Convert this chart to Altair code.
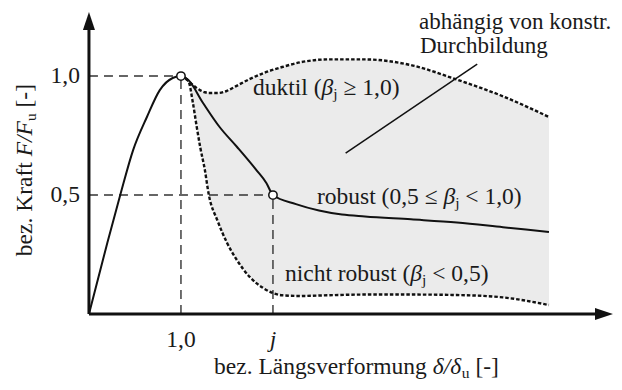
import altair as alt
import pandas as pd

# ---------------- data ----------------
# solid curve (robust behaviour)
curve_x = [0.0, 0.2, 0.34, 0.48, 0.63, 0.77, 0.91, 1.0, 1.08, 1.24, 1.42, 1.61,
           1.82, 1.93, 2.0, 2.25, 2.5, 2.75, 3.0, 3.5, 4.0, 4.5, 5.0]
curve_y = [0.0, 0.30, 0.50, 0.689, 0.828, 0.941, 0.992, 1.0, 0.983, 0.887, 0.786, 0.702,
           0.605, 0.55, 0.5, 0.462, 0.435, 0.418, 0.41, 0.398, 0.385, 0.365, 0.345]

# shaded band between ductile (upper) and non-robust (lower) dotted curves
band_x = [1.0, 1.08, 1.13, 1.17, 1.21, 1.26, 1.3, 1.4, 1.5, 1.6, 1.75, 1.9,
          2.1, 2.3, 2.6, 3.0, 3.5, 4.0, 4.5, 5.0]
band_upper = [1.0, 0.98, 0.962, 0.95, 0.94, 0.932, 0.929, 0.929, 0.938, 0.958, 0.988, 1.013,
              1.038, 1.058, 1.07, 1.07, 1.046, 0.985, 0.915, 0.828]
band_lower = [1.0, 0.98, 0.887, 0.79, 0.70, 0.605, 0.507, 0.39, 0.30, 0.232, 0.155, 0.108,
              0.079, 0.076, 0.079, 0.082, 0.082, 0.08, 0.07, 0.038]

# marked points (peak and point j)
mark_x = [1.0, 2.0]
mark_y = [1.0, 0.5]

# leader line of the annotation
leader_x = [2.79, 4.22]
leader_y = [0.676, 1.05]

# tick labels
xtick_vals = [1.0, 2.0]
xtick_text = ["1,0", "j"]
ytick_vals = [1.0, 0.5]
ytick_text = ["1,0", "0,5"]

# texts made of pieces: (text, style)  n = normal, i = italic, sub = subscript
note_line1 = [("abhängig von konstr.", "n")]
note_line2 = [("Durchbildung", "n")]
duktil_text = [("duktil (", "n"), ("β", "i"), ("j", "sub"), (" ≥ 1,0)", "n")]
robust_text = [("robust (0,5 ≤ ", "n"), ("β", "i"), ("j", "sub"), (" < 1,0)", "n")]
nicht_text = [("nicht robust (", "n"), ("β", "i"), ("j", "sub"), (" < 0,5)", "n")]
x_title = [("bez. Längsverformung ", "n"), ("δ/δ", "i"), ("u", "sub"), (" [-]", "n")]
y_title = [("bez. Kraft ", "n"), ("F/F", "i"), ("u", "sub"), (" [-]", "n")]

# ---------------- chart ----------------
W, H = 606, 374
XD = [-0.88, 5.707]
YD = [-0.2854, 1.286]
PXX = W / (XD[1] - XD[0])
PXY = H / (YD[1] - YD[0])
FONT = "Liberation Serif"
FS = 23.5
SUB_FS = 15.5
SUB_DY = 4
INK = "#1a1a1a"

# Times-compatible advance widths (1/1000 em) used to chain text pieces
REG = {' ': 250, '(': 333, ')': 333, '[': 333, ']': 333, '-': 333, ',': 250, '.': 250,
       '/': 278, '≥': 549, '≤': 549, '<': 564, 'a': 444, 'b': 500, 'c': 444, 'd': 500,
       'e': 444, 'f': 333, 'g': 500, 'h': 500, 'i': 278, 'j': 278, 'k': 500, 'l': 278,
       'm': 778, 'n': 500, 'o': 500, 'r': 333, 's': 389, 't': 278, 'u': 500, 'v': 500,
       'z': 444, 'ä': 444, 'K': 722, 'L': 611, 'D': 722}
ITA = {'F': 611, '/': 278, 'β': 500, 'δ': 480, 'j': 278}


def seg_w(text, style, fs):
    size = SUB_FS if style == "sub" else fs
    table = ITA if style == "i" else REG
    return sum(table.get(c, 500) for c in text) / 1000 * size


def pieces(segs, ax, ay, align, fs=FS, vertical=False):
    total = sum(seg_w(t, s, fs) for t, s in segs)
    start = -total / 2 if align == "center" else 0.0
    rows, cum = [], 0.0
    for t, s in segs:
        lead = len(t) - len(t.lstrip(" "))
        off = start + cum + seg_w(" " * lead, s, fs)   # SVG drops leading blanks
        shown = t.strip(" ")
        if vertical:
            rows.append({"x": ax, "y": ay + off / PXY, "t": shown, "s": s, "fs": fs})
        else:
            rows.append({"x": ax + off / PXX, "y": ay, "t": shown, "s": s, "fs": fs})
        cum += seg_w(t, s, fs)
    return rows


hrows = []
hrows += pieces(note_line1, 3.587, 1.197, "left", fs=23)
hrows += pieces(note_line2, 3.598, 1.097, "left", fs=23)
hrows += pieces(duktil_text, 1.783, 0.92, "left")
hrows += pieces(robust_text, 2.478, 0.462, "left")
hrows += pieces(nicht_text, 2.13, 0.139, "left")
hrows += pieces(x_title, 2.908, -0.252, "center")
htext = pd.DataFrame(hrows)
vtext = pd.DataFrame(pieces(y_title, -0.62, 0.605, "center", vertical=True))


def X(f, **kw):
    return alt.X(f, type="quantitative", scale=alt.Scale(domain=XD, nice=False, zero=False), axis=None, **kw)


def Y(f, **kw):
    return alt.Y(f, type="quantitative", scale=alt.Scale(domain=YD, nice=False, zero=False), axis=None, **kw)


band = pd.DataFrame({"x": band_x, "upper": band_upper, "lower": band_lower})
curve = pd.DataFrame({"x": curve_x, "y": curve_y})
marks = pd.DataFrame({"x": mark_x, "y": mark_y, "zero": [0.0] * len(mark_x)})
leader = pd.DataFrame({"x": [leader_x[0]], "y": [leader_y[0]], "x2": [leader_x[1]], "y2": [leader_y[1]]})
xt = pd.DataFrame({"x": xtick_vals, "t": xtick_text, "y": [-0.139] * 2})
yt = pd.DataFrame({"y": ytick_vals, "t": ytick_text, "x": [-0.098] * 2})
axes = pd.DataFrame({"x": [0.0], "y": [0.0], "xend": [5.55], "yend": [1.2]})
heads = pd.DataFrame({"x": [0.0], "y": [1.231], "hx": [5.598], "hy": [0.0]})

area = alt.Chart(band).mark_area(color="#ebebeb", interpolate="monotone").encode(
    x=X("x"), y=Y("upper"), y2="lower")

dash_style = dict(color="#333333", strokeWidth=1.4, strokeDash=[9, 6])
guide_h = alt.Chart(marks).mark_rule(**dash_style).encode(x=X("zero"), x2="x", y=Y("y"))
guide_v = alt.Chart(marks).mark_rule(**dash_style).encode(x=X("x"), y=Y("zero"), y2="y")

dot_style = dict(color="#111111", strokeWidth=2.4, strokeDash=[3.5, 2], interpolate="monotone")
upper_line = alt.Chart(band).mark_line(**dot_style).encode(x=X("x"), y=Y("upper"))
lower_line = alt.Chart(band).mark_line(**dot_style).encode(x=X("x"), y=Y("lower"))

solid = alt.Chart(curve).mark_line(color="#111111", strokeWidth=2, interpolate="monotone").encode(
    x=X("x"), y=Y("y"))

lead = alt.Chart(leader).mark_rule(color="#111111", strokeWidth=1.5).encode(
    x=X("x"), y=Y("y"), x2="x2", y2="y2")

y_axis = alt.Chart(axes).mark_rule(color="#111111", strokeWidth=3).encode(x=X("x"), y=Y("y"), y2="yend")
x_axis = alt.Chart(axes).mark_rule(color="#111111", strokeWidth=3).encode(x=X("x"), x2="xend", y=Y("y"))
up_head = alt.Chart(heads).mark_point(
    shape="M0,-1L0.667,1L-0.667,1Z", filled=True, color="#111111", size=324, opacity=1).encode(
    x=X("x"), y=Y("y"))
right_head = alt.Chart(heads).mark_point(
    shape="M1,0L-1,-0.667L-1,0.667Z", filled=True, color="#111111", size=324, opacity=1).encode(
    x=X("hx"), y=Y("hy"))

circles = alt.Chart(marks).mark_point(
    shape="circle", filled=True, fill="white", stroke="#111111", strokeWidth=1.5, size=70, opacity=1).encode(
    x=X("x"), y=Y("y"))

txt = dict(font=FONT, color=INK, align="left", baseline="alphabetic")


def text_layers(df, angle=None):
    out = []
    extra = {"angle": angle} if angle is not None else {}
    for st in ["n", "i", "sub"]:
        sub = df[df.s == st]
        if sub.empty:
            continue
        props = dict(txt, **extra)
        if st == "i":
            props["fontStyle"] = "italic"
        if st == "sub":
            props["fontSize"] = SUB_FS
            props["dy"] = SUB_DY
            out.append(alt.Chart(sub).mark_text(**props).encode(x=X("x"), y=Y("y"), text="t:N"))
        else:
            out.append(alt.Chart(sub).mark_text(**props).encode(
                x=X("x"), y=Y("y"), text="t:N",
                size=alt.Size("fs:Q", scale=None, legend=None)))
    return out


xt_norm = alt.Chart(xt[xt.t != "j"]).mark_text(
    font=FONT, fontSize=FS, color=INK, align="center", baseline="alphabetic").encode(
    x=X("x"), y=Y("y"), text="t:N")
xt_ital = alt.Chart(xt[xt.t == "j"]).mark_text(
    font=FONT, fontSize=FS, color=INK, align="center", baseline="alphabetic", fontStyle="italic").encode(
    x=X("x"), y=Y("y"), text="t:N")
yt_layer = alt.Chart(yt).mark_text(
    font=FONT, fontSize=FS, color=INK, align="right", baseline="alphabetic", dy=7).encode(
    x=X("x"), y=Y("y"), text="t:N")

chart = alt.layer(
    area, guide_h, guide_v, upper_line, lower_line, solid, lead,
    y_axis, x_axis, up_head, right_head, circles,
    *text_layers(htext), *text_layers(vtext, angle=270),
    xt_norm, xt_ital, yt_layer,
).properties(
    width=W, height=H, autosize=alt.AutoSizeParams(type="none"), padding=0,
    background="white",
).configure_view(stroke=None)

chart.save("out.html", embed_options={"renderer": "svg", "actions": False})
